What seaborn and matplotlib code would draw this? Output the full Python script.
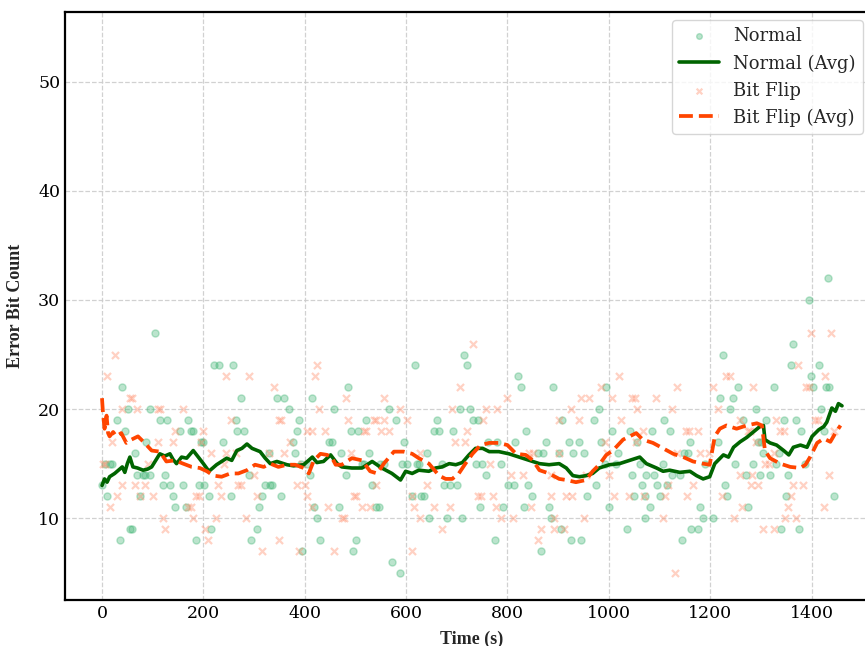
import numpy as np
import pandas as pd
import matplotlib
matplotlib.use("Agg")
import matplotlib.pyplot as plt
import seaborn as sns

# ---- scatter data (time s, error bit count) ----
normal_t = [0, 5, 10, 15, 20, 30, 35, 40, 45, 51, 55, 60, 65, 70, 75, 80, 85, 86, 94, 95,
            105, 114, 120, 125, 129, 135, 141, 145, 154, 160, 165, 170, 175, 180, 185, 191,
            195, 199, 201, 211, 215, 220, 231, 238, 254, 259, 265, 266, 275, 280, 290, 294,
            305, 310, 316, 321, 330, 331, 336, 345, 354, 360, 369, 376, 380, 384, 389, 393,
            395, 404, 410, 415, 419, 424, 430, 448,
            453, 457, 467, 472, 482, 486, 491, 496, 501, 506, 512, 516, 521, 526, 533, 541,
            546, 549, 556, 567, 572, 581, 587, 591, 595, 602, 611, 617, 622, 626, 630, 636,
            642, 646, 655, 661, 665, 671, 675, 681, 686, 692, 700, 706, 711, 715, 721, 726,
            731, 737, 741, 746, 750, 757, 761, 776, 780, 787, 791, 801, 812, 815, 821, 826,
            832, 836, 841, 848, 860, 866, 871, 876, 881, 886, 890, 902, 906, 907, 921, 925,
            930, 941, 945, 950, 956, 970, 975, 980, 985,
            992, 995, 1000, 1006, 1015, 1018, 1036, 1041, 1046, 1050, 1056, 1061, 1065, 1071,
            1071, 1074, 1081, 1085, 1090, 1095, 1100, 1106, 1109, 1114, 1120, 1125, 1140, 1145,
            1149, 1156, 1160, 1163, 1175, 1180, 1185, 1189, 1205, 1215, 1219, 1226, 1229, 1234,
            1239, 1245, 1249, 1255, 1265, 1271, 1274, 1285, 1290, 1295, 1298, 1300, 1304, 1310,
            1318, 1325, 1329, 1335, 1340, 1345, 1349, 1354, 1359, 1364, 1370, 1376, 1380, 1387,
            1394, 1399, 1402, 1415, 1418, 1424, 1429, 1432, 1434, 1444]
normal_v = [13, 15, 12, 15, 15, 19, 8, 22, 18, 20, 9, 9, 16, 14, 12, 14, 14, 17, 20, 14,
            27, 19, 13, 14, 19, 13, 12, 11, 18, 13, 11, 19, 18, 18, 8, 13,
            17, 17, 13, 12, 9, 24, 24, 17, 12, 24, 19, 18, 21, 18, 14, 8,
            9, 11, 12, 13, 16, 13, 13, 21, 12, 21, 20, 17, 16, 18, 19, 15,
            7, 15, 14, 21, 11, 10, 8, 17,
            17, 20, 11, 16, 14, 22, 18, 7, 8, 18, 15, 15, 19, 16, 13, 11,
            11, 15, 15, 20, 6, 19, 5, 15, 17, 15, 12, 24, 15, 15, 12, 12,
            16, 10, 18, 19, 18, 15, 13, 10, 13, 18, 13, 20, 10, 25, 24, 20,
            19, 15, 19, 11, 15, 14, 17, 8, 17, 15, 11, 13, 13, 17, 23, 22,
            11, 18, 13, 12, 16, 7, 16, 17, 11, 10, 22, 16, 9, 19, 17, 8,
            16, 17, 8, 16, 12, 19, 13, 20, 17,
            15, 22, 11, 18, 15, 16, 9, 18, 14, 12, 17, 15, 13, 12,
            10, 14, 11, 18, 14, 13, 12, 15, 19, 13, 18, 14, 14, 8,
            16, 16, 17, 9, 9, 11, 10, 15, 10, 17, 21, 25, 13, 12,
            20, 21, 15, 22, 19, 14, 11, 15, 20, 17, 14, 17, 16, 19,
            14, 22, 15, 16, 9, 19, 12, 14, 24, 26, 19, 9, 18, 15,
            30, 23, 22, 24, 20, 18, 22, 32, 22, 12]

flip_t = [2, 5, 10, 15, 20, 25, 30, 40, 40, 55, 60, 65, 70, 75, 85, 90, 100, 110, 110, 114,
          120, 125, 140, 145, 160, 170, 175, 180, 185, 191, 195, 199, 204, 209, 215, 224, 229,
          235, 240, 244, 244, 254, 264, 269, 275, 284, 290, 300, 305, 315, 329, 339, 349, 349,
          353, 360, 371, 385, 388, 395, 400, 404, 404, 414, 414, 420, 424, 429, 439, 445,
          457, 473, 478, 482, 486, 491, 498, 502, 512, 516, 521, 528, 536, 541, 541, 551, 557,
          557, 567, 587, 601, 611, 612, 615, 627, 627, 642, 656, 671, 686, 691, 696, 706, 716,
          721, 732, 741, 747, 752, 757, 766, 772, 777, 780, 787, 800, 807, 811, 831, 843, 846,
          850, 860, 866, 886, 886, 892, 892, 901, 901, 912, 916, 925, 927, 941, 945, 950, 955,
          960, 985,
          993, 997, 1000, 1006, 1011, 1020, 1024, 1040, 1046, 1051, 1054, 1056, 1067, 1069,
          1094, 1106, 1110, 1117, 1125, 1130, 1135, 1135, 1152, 1155, 1158, 1166, 1176, 1180,
          1198, 1205, 1215, 1224, 1231, 1239, 1246, 1259, 1259, 1262, 1275, 1279, 1280, 1283,
          1285, 1290, 1294, 1304, 1308, 1316, 1325, 1325, 1329, 1338, 1345, 1348, 1353, 1360,
          1364, 1370, 1374, 1384, 1389, 1394, 1399, 1407, 1412, 1425, 1427, 1434, 1439, 1444]
flip_v = [15, 15, 23, 11, 17, 25, 12, 20, 13, 21, 21, 13, 20, 12, 13, 15, 12, 20, 17, 20,
          10, 9, 17, 18, 20, 11, 11, 10, 12, 12, 17, 18, 9, 8, 16, 10, 13,
          12, 15, 23, 16, 19, 16, 13, 13, 10, 23, 14, 12, 7, 16, 22, 19, 8,
          19, 16, 17, 13, 7, 15, 13, 18, 12, 18, 11, 23, 24, 20, 18, 11,
          7, 10, 10, 21, 19, 16, 12, 12, 11, 18, 18, 11, 19, 19, 13, 18, 19,
          21, 18, 20, 19, 7, 12, 11, 16, 10, 13, 11, 9, 11, 20, 17, 22, 17,
          18, 26, 12, 12, 19, 20, 15, 12, 11, 20, 10, 21, 14, 10, 14, 16, 11,
          16, 8, 9, 14, 12, 10, 9, 19, 16, 9, 12, 20, 12, 19, 21, 10, 14,
          21, 22,
          17, 16, 14, 21, 12, 23, 19, 12, 21, 21, 17, 20, 18, 12,
          21, 10, 12, 13, 20, 5, 22, 16, 18, 12, 18, 13, 18, 16,
          16, 22, 20, 12, 23, 23, 10, 19, 14, 11, 18, 18, 13, 14,
          22, 17, 13, 9, 15, 15, 16, 9, 19, 18, 18, 10, 11, 12,
          13, 10, 24, 13, 22, 22, 27, 19, 19, 11, 23, 14, 27, 18]

# ---- moving averages ----
normal_avg_t = [0, 5, 10, 15, 25, 30, 40, 45, 50, 55, 61, 70, 81, 90, 98, 106, 114, 124, 134,
                140, 147, 157, 167, 180, 190, 200, 211, 226, 246, 256, 266, 276, 286, 296, 312,
                322, 332, 345, 365, 378, 398, 415, 424, 437, 451, 464, 473, 493, 513, 533, 552,
                572, 589, 599, 612, 625, 645, 658, 671, 685, 698, 711, 724, 737, 751, 764, 783,
                803, 823, 843, 863, 882, 902, 916, 929, 942, 955, 968, 981, 1001, 1021, 1041,
                1061, 1074, 1094, 1107, 1120, 1140, 1160, 1173, 1186, 1199, 1209, 1226, 1236,
                1246, 1259, 1272, 1285, 1298, 1305, 1308, 1318, 1331, 1345, 1355, 1364, 1378,
                1391, 1401, 1414, 1424, 1430, 1440, 1447, 1453, 1460]
normal_avg_v = [13.0, 13.6, 13.3, 13.8, 14.1, 14.3, 14.7, 14.2, 15.0, 15.6, 14.7, 14.6, 14.4,
                14.5, 14.7, 15.3, 15.9, 15.7, 15.9, 15.4, 15.0, 15.6, 15.5, 16.2, 15.6, 15.0,
                14.3, 14.9, 15.5, 15.3, 16.2, 16.4, 16.8, 16.4, 16.1, 15.5, 15.0, 15.2, 14.9,
                14.8, 14.9, 15.6, 15.1, 15.2, 15.8, 15.0, 14.7, 14.6, 14.6, 15.2, 14.6, 14.1,
                13.5, 14.3, 14.1, 14.4, 14.3, 14.6, 14.7, 15.0, 14.9, 15.1, 15.8, 16.4, 16.4,
                16.1, 16.1, 15.9, 15.6, 15.3, 15.0, 14.9, 15.0, 14.6, 13.9, 13.8, 13.9, 14.1,
                14.6, 14.9, 15.0, 15.3, 15.6, 15.0, 14.6, 14.3, 14.4, 14.2, 14.3, 13.9, 13.6,
                13.8, 15.0, 15.8, 15.6, 16.5, 17.0, 17.4, 17.9, 18.4, 18.5, 17.2, 16.9, 16.7,
                16.2, 15.8, 16.5, 16.7, 16.5, 17.5, 18.1, 18.4, 18.8, 20.1, 19.8, 20.5, 20.3]

flip_avg_t = [0, 2, 5, 9, 12, 15, 22, 28, 38, 48, 58, 71, 84, 98, 114, 127, 144, 160, 177,
              193, 207, 220, 236, 253, 269, 286, 302, 319, 332, 348, 365, 381, 398, 408, 418,
              431, 444, 453, 461, 473, 493, 513, 529, 543, 556, 576, 595, 612, 625, 645, 665,
              678, 691, 704, 717, 731, 747, 764, 783, 800, 817, 836, 850, 863, 882, 902, 916,
              935, 955, 968, 981, 995, 1008, 1028, 1054, 1067, 1087, 1107, 1127, 1147, 1166,
              1186, 1199, 1209, 1219, 1232, 1252, 1272, 1292, 1302, 1308, 1318, 1338, 1358,
              1378, 1388, 1397, 1411, 1424, 1437, 1447, 1457]
flip_avg_v = [21.0, 19.6, 18.2, 19.4, 17.8, 17.5, 17.9, 17.5, 17.8, 16.9, 17.2, 17.5, 16.9,
              16.2, 16.1, 15.2, 15.3, 15.0, 14.7, 14.6, 14.3, 13.9, 13.8, 14.1, 14.1, 14.4,
              14.9, 14.7, 15.0, 14.7, 14.9, 14.9, 14.6, 14.1, 15.3, 15.9, 15.8, 15.6, 14.9,
              14.9, 15.5, 15.3, 14.3, 14.1, 15.0, 16.1, 16.1, 15.9, 15.5, 15.0, 13.9, 13.6,
              13.6, 14.1, 15.0, 15.9, 16.7, 16.9, 16.9, 16.7, 15.9, 15.8, 15.3, 14.4, 14.1,
              13.6, 13.5, 13.3, 13.5, 14.3, 14.9, 15.8, 16.2, 17.2, 17.8, 17.2, 16.9, 16.4,
              15.9, 15.6, 15.2, 15.0, 14.9, 17.5, 18.2, 18.5, 18.2, 18.5, 18.7, 18.5, 16.2,
              15.5, 15.0, 14.7, 14.6, 14.9, 15.6, 16.9, 17.3, 17.0, 17.8, 18.5]

x_ticks = [0, 200, 400, 600, 800, 1000, 1200, 1400]
y_ticks = [10, 20, 30, 40, 50]

sns.set_style("white")

W, H = 865, 646
fig = plt.figure(figsize=(W / 100, H / 100), dpi=100)
# axes extends beyond the right edge (reference is cropped there)
ax = fig.add_axes([65 / W, 1 - 600 / H, (879 - 65) / W, (600 - 12) / H])

sns.scatterplot(x=normal_t, y=normal_v, ax=ax, color="#3cb371", alpha=0.35, s=26,
                marker="o", edgecolor="#3cb371", linewidth=1.0, label="Normal", zorder=2)
sns.lineplot(x=normal_avg_t, y=normal_avg_v, ax=ax, color="#006400", linewidth=2.6,
             label="Normal (Avg)", zorder=4)
sns.scatterplot(x=flip_t, y=flip_v, ax=ax, color="#ff8c69", alpha=0.4, s=26,
                marker="x", linewidth=1.6, label="Bit Flip", zorder=2)
sns.lineplot(x=flip_avg_t, y=flip_avg_v, ax=ax, color="#ff4500", linewidth=2.7,
             linestyle="--", label="Bit Flip (Avg)", zorder=5)

ax.set_xlim(-73, 1533)
ax.set_ylim(2.5, 56.4)
ax.set_xticks(x_ticks)
ax.set_yticks(y_ticks)
ax.grid(True, linestyle="--", color="#cccccc", linewidth=0.9, alpha=0.9)
ax.set_axisbelow(True)

for sp in ax.spines.values():
    sp.set_linewidth(1.6)
    sp.set_color("black")

ax.tick_params(direction="in", length=5, width=1.5, colors="black",
               top=False, right=False, labelsize=12.5)
for lab in ax.get_xticklabels() + ax.get_yticklabels():
    lab.set_family("DejaVu Serif")

ax.set_xlabel("Time (s)", family="Liberation Serif", fontweight="bold", fontsize=13, labelpad=6)
ax.set_ylabel("Error Bit Count", family="Liberation Serif", fontweight="bold", fontsize=13,
              labelpad=10)

leg = ax.legend(loc="upper right", bbox_to_anchor=(863 / W, 1 - 20 / H),
                bbox_transform=fig.transFigure, borderaxespad=0,
                prop={"family": "DejaVu Serif", "size": 13}, frameon=True,
                framealpha=0.8, edgecolor="#cccccc", fancybox=True, markerscale=0.8,
                handlelength=2.2, labelspacing=0.5, borderpad=0.4, handletextpad=0.8)

fig.savefig("out.png", dpi=100)
